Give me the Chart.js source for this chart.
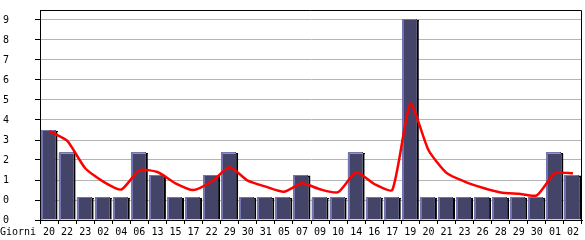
<!DOCTYPE html>
<html>
<head>
<meta charset="utf-8">
<script src="https://cdn.jsdelivr.net/npm/chart.js@4/dist/chart.umd.min.js"></script>
<style>
  body { margin: 0; background: #fff; }
  canvas { display: block; }
</style>
</head>
<body>
<canvas id="chart" width="585" height="240"></canvas>
<script>
// day labels along the bottom
const days = ["20","22","23","02","04","06","13","15","17","22","29","30","31","05","07",
              "09","10","14","16","17","19","20","21","23","26","28","29","30","01","02"];

// visits per day (bars)
const visits = [4,3,1,1,1,3,2,1,1,2,3,1,1,1,2,1,1,3,1,1,9,1,1,1,1,1,1,1,3,2];

// red trend line
const trend = [4.0,3.57,2.33,1.73,1.37,2.24,2.16,1.65,1.35,1.73,2.37,1.77,1.5,1.27,1.65,
               1.38,1.25,2.15,1.62,1.35,5.23,3.15,2.12,1.73,1.45,1.24,1.18,1.11,2.1,2.1];

// y axis: gridline every 0.9, labels as printed on the original
const yStep = 0.9;
const yMax = 9.45;
const yTickLabels = ["0","0","1","2","3","4","5","6","7","8","9"];

const FONT = { family: "'DejaVu Sans Mono', monospace", size: 10 };

// lavender left/top edge on every bar
const barEdges = {
  id: "barEdges",
  afterDatasetDraw(chart, args) {
    if (args.index !== 1) return;
    const ctx = chart.ctx;
    ctx.save();
    for (const el of args.meta.data) {
      const { x, y, base, width } = el.getProps(["x", "y", "base", "width"], true);
      const left = Math.round(x - width / 2);
      const top = Math.round(y) - 1;
      ctx.fillStyle = "#444468";
      ctx.fillRect(left, top, width - 2, 1);
      ctx.fillStyle = "#000";
      ctx.fillRect(left + width - 2, top + 1, 2, 1);
      ctx.fillStyle = "#7474b0";
      ctx.fillRect(left, top, 2, base - top);
      ctx.fillRect(left, top, width - 3, 1);
    }
    ctx.restore();
  }
};

// frame round the plot + "Giorni" caption
const frame = {
  id: "frame",
  afterDraw(chart) {
    const { ctx, chartArea: a } = chart;
    ctx.save();
    ctx.strokeStyle = "#000";
    ctx.lineWidth = 1;
    ctx.beginPath();
    ctx.moveTo(a.left, a.top + 0.5);
    ctx.lineTo(a.right - 0.5, a.top + 0.5);
    ctx.lineTo(a.right - 0.5, a.bottom);
    ctx.stroke();
    ctx.fillStyle = "#000";
    ctx.font = FONT.size + "px " + FONT.family;
    ctx.textBaseline = "middle";
    ctx.textAlign = "left";
    ctx.fillText("Giorni", 0, a.bottom + 12);
    ctx.restore();
  }
};

new Chart(document.getElementById("chart"), {
  data: {
    labels: days,
    datasets: [
      {
        type: "line",
        data: trend,
        borderColor: "#ff0000",
        borderWidth: 2.5,
        pointRadius: 0,
        tension: 0.2,
        order: 0
      },
      {
        type: "bar",
        data: visits,
        backgroundColor: "#444468",
        borderColor: "#000",
        borderWidth: { right: 2, top: 0, left: 0, bottom: 0 },
        borderSkipped: "bottom",
        barPercentage: 0.94,
        categoryPercentage: 1,
        order: 1
      }
    ]
  },
  options: {
    responsive: false,
    animation: false,
    devicePixelRatio: 1,
    layout: { padding: { left: 3, right: 3, top: 10, bottom: 0 } },
    plugins: { legend: { display: false }, tooltip: { enabled: false } },
    scales: {
      x: {
        grid: { drawOnChartArea: false, drawTicks: true, tickLength: 4, tickColor: "#000" },
        border: { color: "#000" },
        ticks: { color: "#000", font: FONT, maxRotation: 0, autoSkip: false, padding: 2 },
        afterFit(s) { s.height = 20; }
      },
      y: {
        min: 0,
        max: yMax,
        grid: { color: "#b4b4b4", tickLength: 5, tickColor: "#000" },
        border: { color: "#000" },
        ticks: {
          color: "#000",
          font: FONT,
          crossAlign: "far",
          callback: (v, i) => yTickLabels[i]
        },
        afterBuildTicks(s) {
          s.ticks = yTickLabels.map((_, i) => ({ value: Math.round(i * yStep * 100) / 100 }));
        },
        afterFit(s) { s.width = 37; }
      }
    }
  },
  plugins: [barEdges, frame]
});
</script>
</body>
</html>
